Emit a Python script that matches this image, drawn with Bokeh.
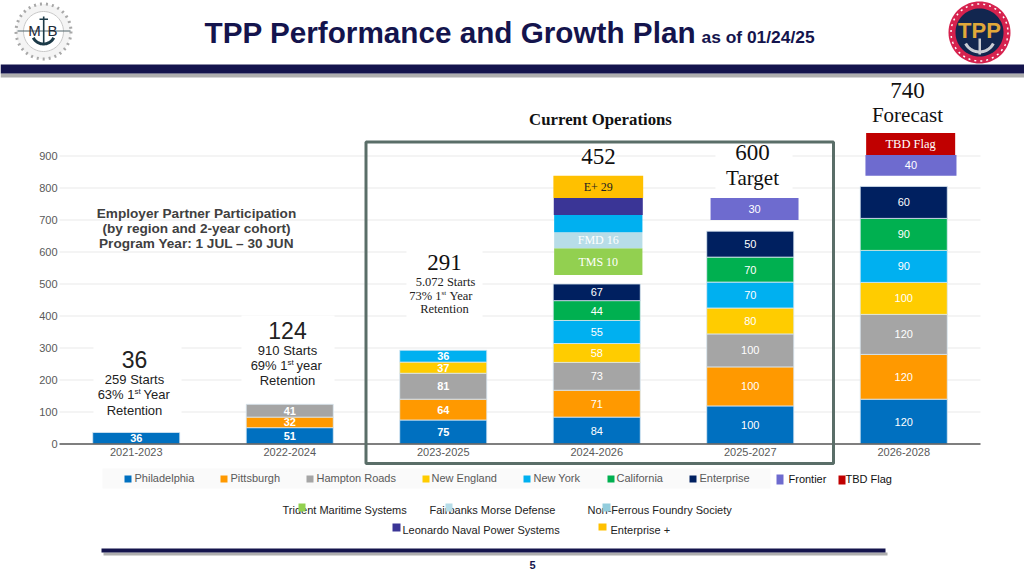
import numpy as np
from bokeh.embed import file_html
from bokeh.resources import INLINE
from bokeh.plotting import figure
from bokeh.models import (BoxAnnotation, ColumnDataSource, FixedTicker, Label,
                          LinearAxis, PolyAnnotation, Range1d)
from bokeh.core.properties import value

# ---------- data ----------
cohorts = ["2021-2023", "2022-2024", "2023-2025", "2024-2026", "2025-2027", "2026-2028"]
y_ticks = [0, 100, 200, 300, 400, 500, 600, 700, 800, 900]

# Drawn segment heights
philadelphia = [36, 51, 75, 84, 119, 140]
pittsburgh = [0, 33, 65, 84, 122, 140]
hampton_roads = [0, 40, 81, 87, 103, 125]
new_england = [0, 0, 35, 59, 81, 100]
new_york = [0, 0, 37, 72, 81, 100]
california = [0, 0, 0, 62, 78, 100]
enterprise = [0, 0, 0, 52, 81, 100]

# Printed segment labels
philadelphia_lbl = ["36", "51", "75", "84", "100", "120"]
pittsburgh_lbl = ["", "32", "64", "71", "100", "120"]
hampton_roads_lbl = ["", "41", "81", "73", "100", "120"]
new_england_lbl = ["", "", "37", "58", "80", "100"]
new_york_lbl = ["", "", "36", "55", "70", "90"]
california_lbl = ["", "", "", "44", "70", "90"]
enterprise_lbl = ["", "", "", "67", "50", "60"]

series_names = ["Philadelphia", "Pittsburgh", "Hampton Roads", "New England", "New York", "California", "Enterprise"]
series_colors = ["#0070c0", "#ff9900", "#a5a5a5", "#ffcc00", "#00b0f0", "#00b050", "#002060"]

# Floating blocks on top of the stacks
float_cohort = ["2024-2026", "2024-2026", "2024-2026", "2024-2026", "2024-2026", "2025-2027", "2026-2028", "2026-2028"]
float_bottom = [528, 612, 662, 716, 769, 700, 838, 903]
float_top = [612, 662, 716, 769, 838, 769, 903, 972]
float_text = ["TMS 10", "FMD 16", "", "", "E+ 29", "30", "40", "TBD Flag"]
float_colors = ["#92d050", "#b7dde8", "#00b0f0", "#3a3596", "#ffc000", "#6e6bcf", "#6e6bcf", "#c00000"]

NAVY = "#14144d"
SANS = "Liberation Sans"
SERIF = "Liberation Serif"
W, H = 1024, 575
X0, XSTEP = 59.0, 153.5      # pixel of category-band start, band width
Y0, YSCALE = 443.5, 0.32     # pixel of value 0, pixels per unit

p = figure(width=W, height=H, output_backend="svg", toolbar_location=None,
           x_axis_type=None, y_axis_type=None,
           x_range=Range1d(-0.5 - X0 / XSTEP, -0.5 + (W - X0) / XSTEP),
           y_range=Range1d(-(H - Y0) / YSCALE, Y0 / YSCALE),
           min_border=0, min_border_left=0, min_border_right=0, min_border_top=0, min_border_bottom=0)
p.outline_line_color = None
p.background_fill_color = "white"
p.grid.visible = False

idx = list(range(len(cohorts)))
# grid lines only across the category bands
p.segment(x0=[-0.5] * len(y_ticks), x1=[5.5] * len(y_ticks), y0=y_ticks, y1=y_ticks,
          line_color="#e9e9e9", line_width=1)

yaxis = LinearAxis(ticker=FixedTicker(ticks=y_ticks), fixed_location=-0.5,
                   axis_line_color=None, major_tick_line_color=None, minor_tick_line_color=None,
                   major_tick_out=0, major_tick_in=0, minor_tick_out=0, minor_tick_in=0,
                   major_label_text_font=SANS, major_label_text_font_size="11px",
                   major_label_text_color="#595959", major_label_standoff=2)
p.add_layout(yaxis, "left")
xaxis = LinearAxis(ticker=FixedTicker(ticks=idx), fixed_location=0,
                   major_label_overrides={i: c for i, c in zip(idx, cohorts)},
                   axis_line_color=None,
                   major_tick_line_color=None, minor_tick_line_color=None,
                   major_tick_out=0, major_tick_in=0, minor_tick_out=0, minor_tick_in=0,
                   major_label_text_font=SANS, major_label_text_font_size="11px",
                   major_label_text_color="#595959", major_label_standoff=4)
p.add_layout(xaxis, "below")


def box(l, t, r, b, fill=None, line=None, lw=1, alpha=1.0, level="annotation"):
    p.add_layout(BoxAnnotation(left=l, right=r, top=t, bottom=b,
                               left_units="canvas", right_units="canvas",
                               top_units="canvas", bottom_units="canvas",
                               fill_color=fill, fill_alpha=alpha if fill else 0,
                               line_color=line, line_width=lw, line_alpha=1 if line else 0,
                               level=level))


def txt(x, y, s, size=11, color="#222222", font=SANS, style="normal", align="center", baseline="middle"):
    p.add_layout(Label(x=x, y=y - 1, x_units="canvas", y_units="canvas", text=s,
                       text_font=font, text_font_size=f"{size}px", text_color=color,
                       text_font_style=style, text_align=align, text_baseline=baseline))


def poly(xs, ys, fill=None, line=None, lw=1, dash="solid"):
    p.add_layout(PolyAnnotation(xs=list(xs), ys=list(ys), xs_units="canvas", ys_units="canvas",
                                fill_color=fill, fill_alpha=1 if fill else 0,
                                line_color=line, line_alpha=1 if line else 0,
                                line_width=lw, line_dash=dash))


def disc(cx, cy, r, fill=None, line=None, lw=1, dash="solid"):
    t = np.linspace(0, 2 * np.pi, 72, endpoint=False)
    poly(cx + r * np.cos(t), cy + r * np.sin(t), fill, line, lw, dash)


def crescent(cx, cy, r, w, fill):
    t = np.linspace(0.15 * np.pi, 0.85 * np.pi, 24)
    xs = np.r_[cx + r * np.cos(t), cx + (r - w) * np.cos(t[::-1])]
    ys = np.r_[cy + r * np.sin(t), cy + (r - w) * np.sin(t[::-1])]
    poly(xs, ys, fill)


# ---------- stacked bars ----------
drawn = [philadelphia, pittsburgh, hampton_roads, new_england, new_york, california, enterprise]
printed = [philadelphia_lbl, pittsburgh_lbl, hampton_roads_lbl, new_england_lbl, new_york_lbl,
           california_lbl, enterprise_lbl]
base = np.zeros(len(cohorts))
lx, ly, lt, ls = [], [], [], []
for vals, texts, col in zip(drawn, printed, series_colors):
    v = np.array(vals, dtype=float)
    top = base + v
    keep = v > 0
    src = ColumnDataSource(dict(x=[i for i in idx if keep[i]], bottom=base[keep], top=top[keep]))
    p.vbar(x="x", bottom="bottom", top="top", width=0.567, source=src,
           fill_color=col, line_color="#dbe8f2", line_width=0.8)
    for i in idx:
        if keep[i]:
            lx.append(i); ly.append((base[i] + top[i]) / 2); lt.append(texts[i])
            ls.append("bold" if i < 3 else "normal")
    base = top
# baseline of the category axis, over the bars' feet
p.segment(x0=[-0.5], x1=[5.5], y0=[0], y1=[0], line_color="#595959", line_width=1.5)
for style in ("bold", "normal"):
    sel = [i for i, s in enumerate(ls) if s == style]
    src = ColumnDataSource(dict(x=[lx[i] for i in sel], y=[ly[i] for i in sel], t=[lt[i] for i in sel]))
    p.text(x="x", y="y", text="t", source=src, text_align="center", text_baseline="middle",
           text_color="white", text_font=value(SANS), text_font_size="11px", text_font_style=style)

# floating blocks
float_offset = [0.01, 0.01, 0.01, 0.01, 0.01, 0.028, 0.047, 0.045]
float_width = [0.575, 0.575, 0.575, 0.58, 0.585, 0.573, 0.593, 0.58]
float_font = [SERIF, SERIF, SERIF, SERIF, SERIF, SANS, SANS, SERIF]
float_tcol = ["white", "white", "white", "white", "#222222", "white", "white", "white"]
float_size = ["12px", "12px", "12px", "12px", "12px", "11px", "11px", "12.5px"]
for i, c in enumerate(float_cohort):
    xc = cohorts.index(c) + float_offset[i]
    src = ColumnDataSource(dict(x=[xc], bottom=[float_bottom[i]], top=[float_top[i]],
                                y=[(float_bottom[i] + float_top[i]) / 2], t=[float_text[i]]))
    p.vbar(x="x", bottom="bottom", top="top", width=float_width[i], source=src,
           fill_color=float_colors[i], line_color=None)
    if float_text[i]:
        p.text(x="x", y="y", text="t", source=src, text_align="center", text_baseline="middle",
               text_color=float_tcol[i], text_font=value(float_font[i]), text_font_size=float_size[i])

# ---------- header ----------
box(0, 73, 1024, 77, fill="#9a9a9a", alpha=0.8)
box(0, 64, 1024, 73, fill=NAVY)
txt(204, 33, "TPP Performance and Growth Plan", 29.7, NAVY, style="bold", align="left")
txt(701, 37, "as of 01/24/25", 17.4, NAVY, style="bold", align="left")

# left logo
disc(43, 31, 27.5, fill="#f4f4f4", line="#a8a8a8", lw=3, dash="dotted")
disc(43, 31, 20, fill="white", line="#c8c8c8", lw=1)
box(17, 30, 70, 31, fill="#51646b")
box(42.4, 16, 44, 44, fill="#1c3a48")
box(39, 18, 47.5, 19.5, fill="#1c3a48")
crescent(43, 32, 13, 3, "#1c3a48")
txt(34, 31, "M", 15, "#1c2a38", align="center")
txt(52, 31, "B", 15, "#1c2a38", align="center")
# right logo
disc(979, 32, 31, fill="#d6224e")
disc(979, 32, 28.5, line="white", lw=1.5, dash="dotted")
disc(979, 32, 24, fill="#12264f")
box(978, 38, 980.5, 54, fill="#c9ccd4")
crescent(979, 36, 17, 3, "#c9ccd4")
txt(979, 31, "TPP", 22, "#e0a83a", style="bold")

# ---------- annotation blocks ----------
box(93, 345, 181, 423, fill="white")
box(241, 315, 334, 398, fill="white")
box(406, 250, 482, 318, fill="white")
box(582, 146, 615, 170, fill="white")
box(715, 143, 792, 192, fill="white")

# ---------- current operations frame ----------
box(365.5, 141.5, 833, 463, line="#5a6e68", lw=3)
txt(600, 120, "Current Operations", 16.8, "#111111", SERIF, style="bold")

txt(134, 360, "36", 23)
txt(134, 380, "259 Starts", 13)
txt(134, 395, "63% 1", 13, align="right")
txt(134, 392, "st", 8, align="left")
txt(143, 395, "Year", 13, align="left")
txt(134, 411, "Retention", 13)

txt(287, 331, "124", 23)
txt(287, 351, "910 Starts", 13)
txt(287, 366, "69% 1", 13, align="right")
txt(287, 363, "st", 8, align="left")
txt(296, 366, "year", 13, align="left")
txt(287, 381, "Retention", 13)

txt(444, 263, "291", 23, "#111111", SERIF)
txt(445, 282, "5.072 Starts", 12.5, "#222222", SERIF)
txt(441, 296, "73% 1", 12.5, "#222222", SERIF, align="right")
txt(441, 293, "st", 7, "#222222", SERIF, align="left")
txt(449, 296, "Year", 12.5, "#222222", SERIF, align="left")
txt(444, 309, "Retention", 12.5, "#222222", SERIF)

txt(598, 157, "452", 23, "#111111", SERIF)
txt(752, 153, "600", 23, "#111111", SERIF)
txt(752, 178, "Target", 21, "#111111", SERIF)
txt(907, 91, "740", 23, "#111111", SERIF)
txt(907, 115, "Forecast", 21, "#111111", SERIF)

txt(196, 214, "Employer Partner Participation", 13.6, "#404040", style="bold")
txt(196, 229, "(by region and 2-year cohort)", 13.6, "#404040", style="bold")
txt(196, 244, "Program Year: 1 JUL \u2013 30 JUN", 13.6, "#404040", style="bold")

# ---------- legend ----------
box(102, 468, 770, 488, fill="#fafafa")
leg_sq = [124, 220, 306, 422, 523, 607, 689]
leg_tx = [134, 230, 316, 431, 533, 616, 699]
for name, col, sx, tx in zip(series_names, series_colors, leg_sq, leg_tx):
    box(sx, 475, sx + 7, 482, fill=col)
    txt(tx, 478.5, name, 11, "#595959", align="left")

txt(788, 479, "Frontier", 11, "#111111", align="left")
box(776, 474, 783, 484, fill="#6e6bcf")
txt(845, 479, "TBD Flag", 11, "#111111", align="left")
box(838, 475, 845, 484, fill="#c00000")

txt(282, 510, "Trident Maritime Systems", 11, "#222222", align="left")
txt(429, 510, "Fairbanks Morse Defense", 11, "#222222", align="left")
txt(587, 510, "Non-Ferrous Foundry Society", 11, "#222222", align="left")
box(298, 503, 305, 511, fill="#92d050")
box(445, 503, 452, 511, fill="#b7dde8")
box(602, 503, 610, 511, fill="#93cddd")
txt(402, 530, "Leonardo Naval Power Systems", 11, "#222222", align="left")
box(392, 523, 400, 531, fill="#3a3596")
txt(610, 530, "Enterprise +", 11, "#222222", align="left")
box(598, 523, 606, 530, fill="#ffc000")

# ---------- footer ----------
box(103, 552, 887, 555, fill="#9a9a9a", alpha=0.8)
box(101, 548, 885, 552, fill=NAVY)
txt(532, 565, "5", 11, NAVY, style="bold")

open("out.html", "w").write(file_html(p, INLINE))
